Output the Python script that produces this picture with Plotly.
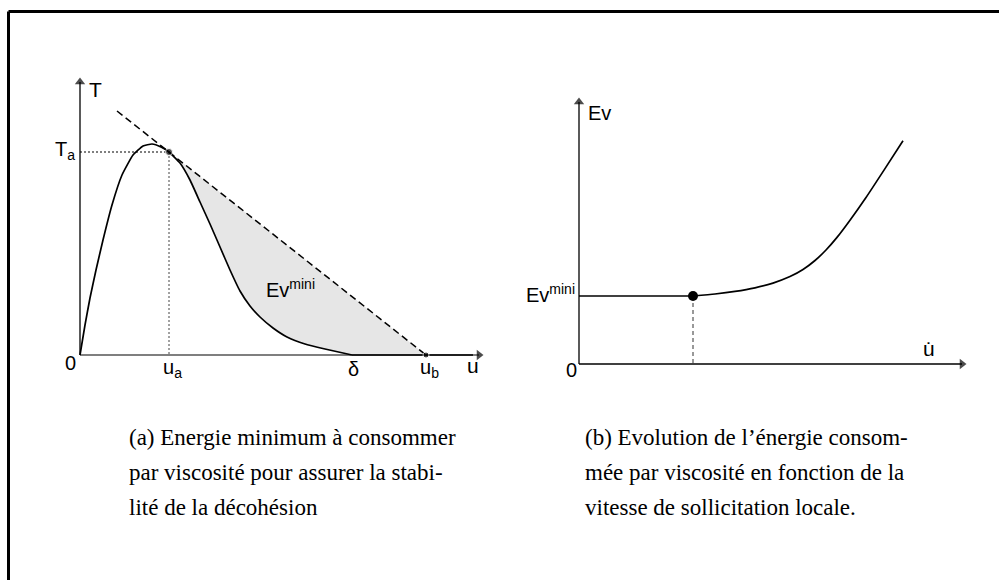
import plotly.graph_objects as go

W, H = 999, 580

# ---- (a) traction-separation law, units: u and T ----
u_curve = [0.00, 0.05, 0.10, 0.16, 0.23, 0.32, 0.42, 0.53, 0.63, 0.72, 0.81, 0.89,
           1.00, 1.10, 1.20, 1.30, 1.40, 1.50, 1.60, 1.70, 1.80, 1.93, 2.07, 2.25, 2.45, 2.72]
T_curve = [0.00, 0.30, 0.57, 0.85, 1.15, 1.50, 1.80, 2.00, 2.09, 2.11, 2.08, 2.03,
           1.92, 1.75, 1.53, 1.31, 1.08, 0.85, 0.64, 0.49, 0.38, 0.27, 0.18, 0.11, 0.06, 0.00]
u_a, T_a = 0.89, 2.03
delta = 2.72
u_b = 3.46
tangent_u = [0.37, u_b]
tangent_T = [2.44, 0.00]
u_axis_end, T_axis_end = 3.99, 2.73

# ---- (b) viscous energy vs loading rate ----
rate_flat = [0.00, 1.14]
ev_flat = [0.68, 0.68]
rate_curve = [1.14, 1.36, 1.56, 1.76, 1.94, 2.11, 2.24, 2.36, 2.47, 2.58, 2.71, 2.87, 3.05, 3.24]
ev_curve = [0.68, 0.70, 0.726, 0.762, 0.809, 0.874, 0.945, 1.035, 1.14, 1.266, 1.438,
            1.665, 1.939, 2.233]
rate_c, ev_min = 1.14, 0.68
rate_axis_end, ev_axis_end = 3.83, 2.62

caption_a = ["(a) Energie minimum à consommer",
             "par viscosité pour assurer la stabi-",
             "lité de la décohésion"]
caption_b = ["(b) Evolution de l’énergie consom-",
             "mée par viscosité en fonction de la",
             "vitesse de sollicitation locale."]

SANS = "Liberation Sans, Arial, sans-serif"
SERIF = "Liberation Serif, serif"

fig = go.Figure()

# shaded Ev_mini area: tangent line from u_a to u_b, back along the curve
i_a = u_curve.index(u_a)
poly_u = [u_a, u_b] + u_curve[:i_a - 1:-1]
poly_T = [T_a, 0.0] + T_curve[:i_a - 1:-1]
fig.add_trace(go.Scatter(x=poly_u, y=poly_T, fill="toself", fillcolor="#e6e6e6",
                         line=dict(width=0), mode="lines", hoverinfo="skip",
                         xaxis="x", yaxis="y"))

# tangent line
fig.add_trace(go.Scatter(x=tangent_u, y=tangent_T, mode="lines",
                         line=dict(color="black", width=1.5, dash="7px,4px"),
                         xaxis="x", yaxis="y"))
# guide lines to T_a and u_a
fig.add_trace(go.Scatter(x=[0, u_a], y=[T_a, T_a], mode="lines",
                         line=dict(color="black", width=1.1, dash="2px,2px"),
                         xaxis="x", yaxis="y"))
fig.add_trace(go.Scatter(x=[u_a, u_a], y=[T_a, 0], mode="lines",
                         line=dict(color="#444444", width=1, dash="2px,2px"),
                         xaxis="x", yaxis="y"))


def axis_arrow(x_end, y_end, xr, yr, color="black"):
    # axis line from the origin ending with a filled arrow head
    fig.add_trace(go.Scatter(x=[0, x_end], y=[0, y_end], mode="lines",
                             line=dict(color=color, width=1.3),
                             xaxis=xr, yaxis=yr, hoverinfo="skip"))
    fig.add_trace(go.Scatter(x=[0, x_end], y=[0, y_end], mode="markers",
                             marker=dict(symbol="triangle-up", size=[0, 9], color="black",
                                         angleref="previous", line=dict(width=0)),
                             xaxis=xr, yaxis=yr, hoverinfo="skip"))


axis_arrow(u_axis_end, 0, "x", "y", color="#555555")
axis_arrow(0, T_axis_end, "x", "y")
axis_arrow(rate_axis_end, 0, "x2", "y2")
axis_arrow(0, ev_axis_end, "x2", "y2")

# traction curve, zero beyond delta
fig.add_trace(go.Scatter(x=u_curve, y=T_curve, mode="lines",
                         line=dict(color="black", width=1.7, shape="spline", smoothing=0.4),
                         xaxis="x", yaxis="y"))
fig.add_trace(go.Scatter(x=[delta, u_axis_end - 0.06], y=[0, 0], mode="lines",
                         line=dict(color="black", width=1.7),
                         xaxis="x", yaxis="y"))
fig.add_trace(go.Scatter(x=[u_a, u_b], y=[T_a, 0], mode="markers",
                         marker=dict(color="black", size=[7, 6]),
                         xaxis="x", yaxis="y"))

# (b) curves
fig.add_trace(go.Scatter(x=[rate_c, rate_c], y=[ev_min, 0], mode="lines",
                         line=dict(color="#333333", width=1, dash="4px,3px"),
                         xaxis="x2", yaxis="y2"))
fig.add_trace(go.Scatter(x=rate_flat, y=ev_flat, mode="lines",
                         line=dict(color="black", width=1.4),
                         xaxis="x2", yaxis="y2"))
fig.add_trace(go.Scatter(x=rate_curve, y=ev_curve, mode="lines",
                         line=dict(color="black", width=1.7, shape="spline", smoothing=0.5),
                         xaxis="x2", yaxis="y2"))
fig.add_trace(go.Scatter(x=[rate_c], y=[ev_min], mode="markers",
                         marker=dict(color="black", size=10),
                         xaxis="x2", yaxis="y2"))

ann = []


def label(x, y, text, xr, yr, size=20, xanchor="center", yanchor="middle", font=SANS):
    ann.append(dict(x=x, y=y, xref=xr, yref=yr, text=text, showarrow=False,
                    xanchor=xanchor, yanchor=yanchor,
                    font=dict(family=font, size=size, color="black")))


# (a) labels
label(0.07, 2.66, "T", "x", "y", size=21, xanchor="left")
label(-0.03, 2.05, "T<sub>a</sub>", "x", "y", xanchor="right")
label(-0.10, -0.08, "0", "x", "y")
label(0.92, -0.13, "u<sub>a</sub>", "x", "y")
label(delta + 0.01, -0.14, "δ", "x", "y")
label(u_b + 0.03, -0.13, "u<sub>b</sub>", "x", "y")
label(3.93, -0.10, "u", "x", "y", size=21)
label(1.84, 0.67, "Ev<sup>mini</sup>", "x", "y", xanchor="left")

# (b) labels
label(0.07, 2.51, "Ev", "x2", "y2", xanchor="left")
label(-0.02, 0.71, "Ev<sup>mini</sup>", "x2", "y2", xanchor="right")
label(-0.08, -0.06, "0", "x2", "y2")
label(3.50, 0.16, "u\u0307", "x2", "y2", size=21)

# captions
for k, line in enumerate(caption_a):
    label(127 / W, 1 - (437 + 35 * k) / H, line, "paper", "paper", size=23,
          xanchor="left", font=SERIF)
for k, line in enumerate(caption_b):
    label(583 / W, 1 - (437 + 35 * k) / H, line, "paper", "paper", size=23,
          xanchor="left", font=SERIF)

# page frame (top and left edges)
shapes = [
    dict(type="line", xref="paper", yref="paper", x0=8.5 / W, x1=1.01,
         y0=1 - 11.5 / H, y1=1 - 11.5 / H, line=dict(color="black", width=3)),
    dict(type="line", xref="paper", yref="paper", x0=8.5 / W, x1=8.5 / W,
         y0=1 - 11.5 / H, y1=-0.01, line=dict(color="black", width=3)),
]

hidden = dict(visible=False, showgrid=False, zeroline=False, fixedrange=True)
fig.update_layout(
    width=W, height=H, margin=dict(l=0, r=0, t=0, b=0),
    paper_bgcolor="white", plot_bgcolor="white", showlegend=False,
    xaxis=dict(range=[-0.80, 9.19], domain=[0, 1], **hidden),
    yaxis=dict(range=[-2.25, 3.55], domain=[0, 1], **hidden),
    xaxis2=dict(range=[-5.79, 4.20], domain=[0, 1], overlaying="x", **hidden),
    yaxis2=dict(range=[-2.16, 3.64], domain=[0, 1], overlaying="y", **hidden),
    annotations=ann, shapes=shapes,
)

fig.write_html("out.html", config={"displayModeBar": False})
